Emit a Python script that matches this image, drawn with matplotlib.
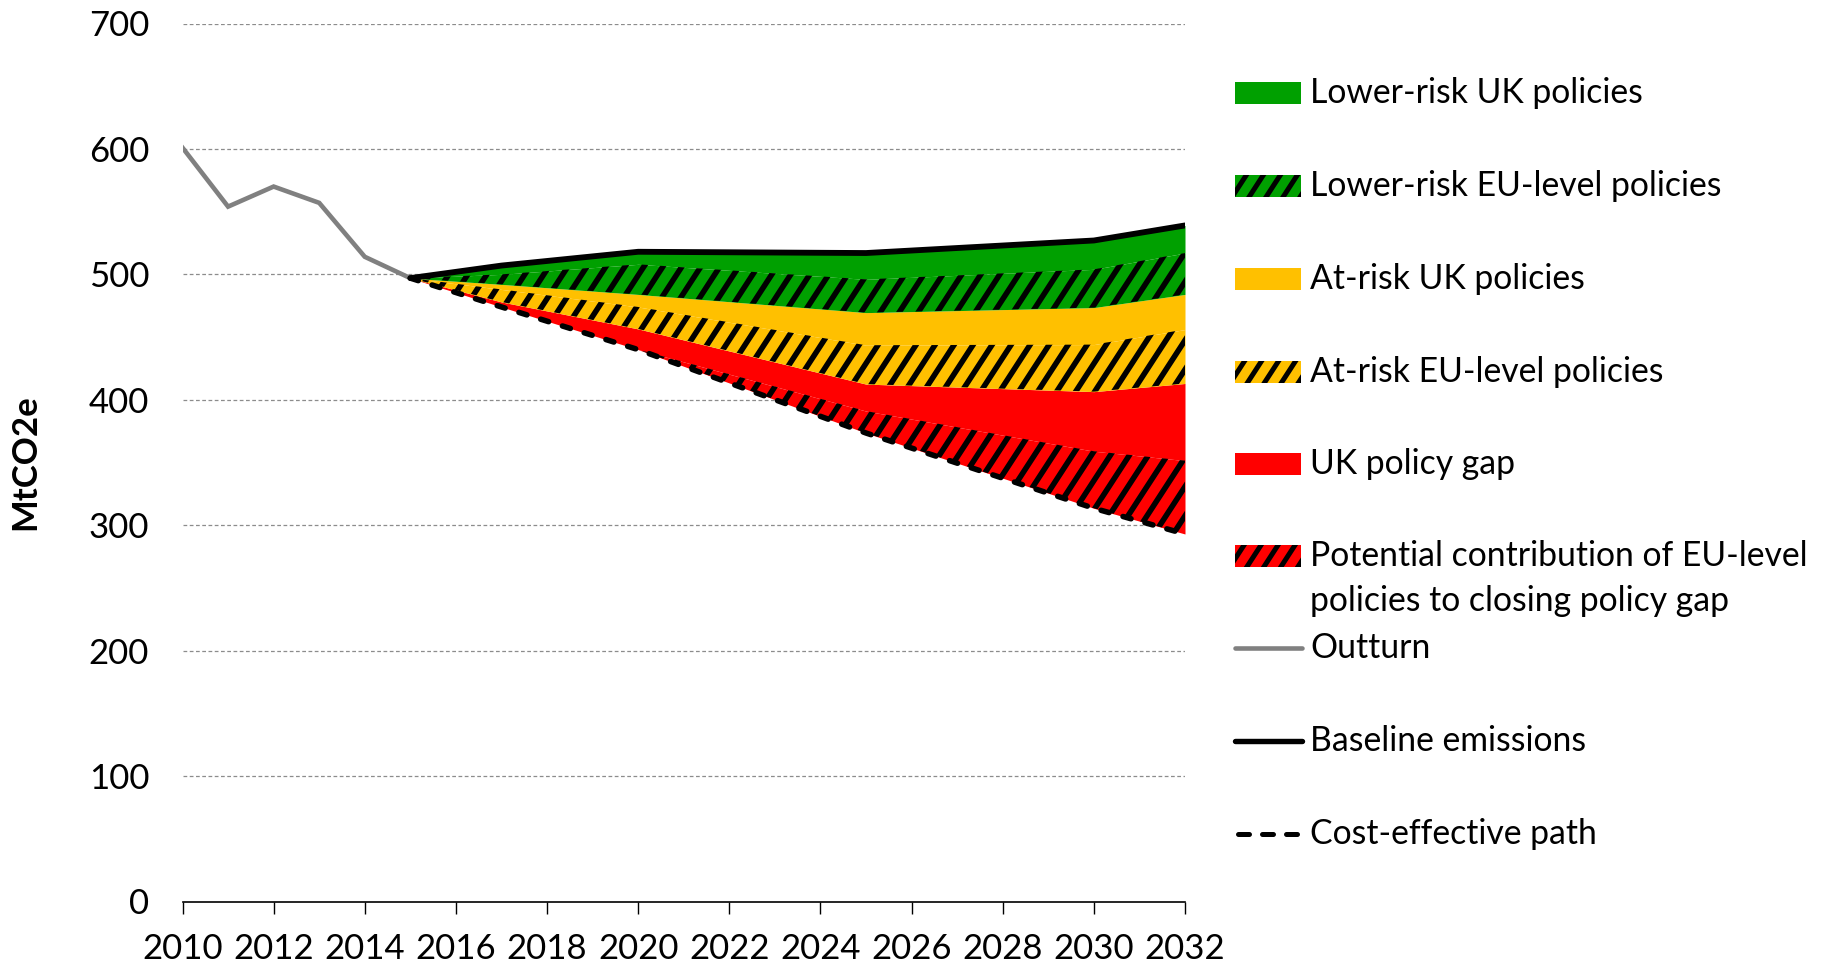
import matplotlib
matplotlib.use("Agg")
import matplotlib.pyplot as plt
from matplotlib.patches import Rectangle
from matplotlib.lines import Line2D
from matplotlib.collections import LineCollection
from matplotlib.transforms import IdentityTransform
import numpy as np

plt.rcParams['font.family'] = ['Lato', 'DejaVu Sans']

# ---------------- data ----------------
outturn_years = [2010, 2011, 2012, 2013, 2014, 2015]
outturn = [601, 554, 570, 557, 514, 497]

proj_years = [2015, 2017, 2020, 2025, 2030, 2032]
cost_effective = [497, 474, 440, 373.5, 313.5, 293]
eu_gap_contrib = [0, 0, 0, 17.5, 45.5, 58.5]      # potential contribution of EU-level policies
uk_policy_gap = [0, 4, 16.5, 21.5, 47.5, 61.5]
atrisk_eu = [0, 10, 17.5, 31, 37.5, 43]
atrisk_uk = [0, 4, 10, 26, 29.5, 28]
lowrisk_eu = [0, 8, 24, 26.5, 30.5, 33]
lowrisk_uk = [0, 7, 10, 21, 23, 22]

x_ticks = list(range(2010, 2033, 2))
y_ticks = [0, 100, 200, 300, 400, 500, 600, 700]

GREEN = '#00A000'
YELLOW = '#FFC000'
RED = '#FF0000'
GREY = '#808080'

bands = [
    (eu_gap_contrib, RED, True),
    (uk_policy_gap, RED, False),
    (atrisk_eu, YELLOW, True),
    (atrisk_uk, YELLOW, False),
    (lowrisk_eu, GREEN, True),
    (lowrisk_uk, GREEN, False),
]

W, H = 1823, 966
DPI = 100
fig = plt.figure(figsize=(W / DPI, H / DPI), dpi=DPI)
ax = fig.add_axes([182.5 / W, 1 - 901.5 / H, (1185 - 182.5) / W, (901.5 - 23.5) / H])

# stripe pattern (Excel-like wide diagonal hatch), drawn in pixel space and clipped
STRIPE_SPACING = 19.0   # horizontal distance between stripes, px
STRIPE_ANGLE = 57.0     # degrees from horizontal
STRIPE_LW = 4.0         # points


def add_stripes(artist_clip, clip_transform=None, spacing=STRIPE_SPACING, lw=STRIPE_LW):
    run = H / np.tan(np.radians(STRIPE_ANGLE))
    segs = []
    c = -run - spacing
    while c < W + spacing:
        segs.append([(c, 0), (c + run, H)])
        c += spacing
    lc = LineCollection(segs, colors='black', linewidths=lw,
                        transform=IdentityTransform(), zorder=2.5,
                        capstyle='butt')
    if clip_transform is None:
        lc.set_clip_path(artist_clip)
    else:
        lc.set_clip_path(artist_clip, clip_transform)
    return lc


# gridlines
for yv in y_ticks[1:]:
    ax.axhline(yv, color='#8c8c8c', lw=0.9, ls=(0, (3, 2)), zorder=0.5)

px = np.array(proj_years, dtype=float)
lower = np.array(cost_effective, dtype=float)
for vals, col, hatched in bands:
    upper = lower + np.array(vals, dtype=float)
    coll = ax.fill_between(px, lower, upper, facecolor=col, edgecolor=col,
                           linewidth=0, zorder=2)
    if hatched:
        lc = add_stripes(coll.get_paths()[0], ax.transData)
        ax.add_collection(lc, autolim=False)
    lower = upper
baseline = lower

ax.plot(outturn_years, outturn, color=GREY, lw=3.3, zorder=3, solid_joinstyle='miter')
ax.plot(px, baseline, color='black', lw=4.2, zorder=4, solid_capstyle='round')
ax.plot(px, cost_effective, color='black', lw=4.0, zorder=4,
        dashes=(1.5, 2.6), dash_capstyle='round')

ax.set_xlim(2010, 2032)
ax.set_ylim(0, 700)
ax.set_xticks(x_ticks)
ax.set_yticks(y_ticks)
ax.tick_params(axis='x', direction='out', length=8.5, width=1.0, pad=14, labelsize=25, color='black')
ax.tick_params(axis='y', length=0, pad=24, labelsize=25)
for s in ['top', 'right', 'left']:
    ax.spines[s].set_visible(False)
ax.spines['bottom'].set_color('black')
ax.spines['bottom'].set_linewidth(1.2)
ax.set_ylabel('MtCO2e', fontsize=25, fontweight='bold')
ax.yaxis.set_label_coords(-0.141, 0.5)

# ---------------- legend (manual, to mimic Excel layout) ----------------
def fx(p):
    return p / W

def fy(p):
    return 1 - p / H

patch_x0, patch_w, patch_h = 1235, 66, 22
text_x = 1310
fs = 24.3
entries = [
    ('patch', GREEN, False, 'Lower-risk UK policies', 93),
    ('patch', GREEN, True, 'Lower-risk EU-level policies', 186),
    ('patch', YELLOW, False, 'At-risk UK policies', 279),
    ('patch', YELLOW, True, 'At-risk EU-level policies', 372),
    ('patch', RED, False, 'UK policy gap', 464),
    ('patch', RED, True, 'Potential contribution of EU-level', 556),
    ('line', GREY, 'solid', 'Outturn', 648),
    ('line', 'black', 'solid', 'Baseline emissions', 741),
    ('line', 'black', 'dashed', 'Cost-effective path', 834),
]
for kind, col, style, label, yc in entries:
    if kind == 'patch':
        r = Rectangle((fx(patch_x0), fy(yc + patch_h / 2)), fx(patch_w), patch_h / H,
                      transform=fig.transFigure, facecolor=col,
                      edgecolor=col, linewidth=0)
        fig.add_artist(r)
        if style:
            fig.add_artist(add_stripes(r, spacing=17.0, lw=3.6))
    else:
        if style == 'dashed':
            ln = Line2D([fx(patch_x0 + 3), fx(patch_x0 + 62)], [fy(yc), fy(yc)],
                        transform=fig.transFigure, color=col, lw=3.6,
                        dashes=(2.2, 2.6), dash_capstyle='round')
        else:
            ln = Line2D([fx(patch_x0), fx(patch_x0 + 67)], [fy(yc), fy(yc)],
                        transform=fig.transFigure, color=col,
                        lw=3.3 if col == GREY else 3.9, solid_capstyle='round')
        fig.add_artist(ln)
    fig.text(fx(text_x), fy(yc), label, fontsize=fs, va='center', ha='left')
fig.text(fx(text_x), fy(601), 'policies to closing policy gap', fontsize=fs, va='center', ha='left')

fig.savefig('out.png', dpi=DPI)
